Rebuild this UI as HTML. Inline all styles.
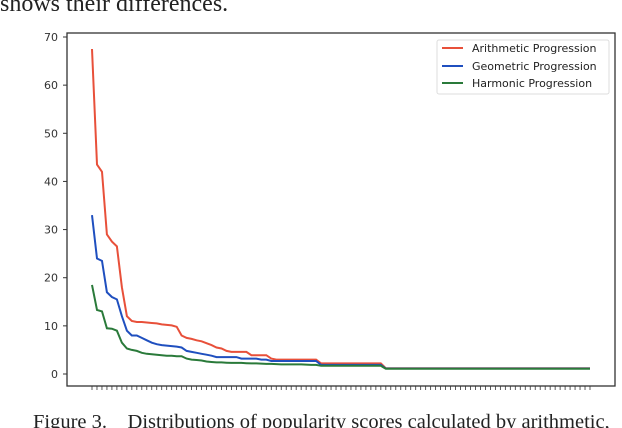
<!DOCTYPE html>
<html><head><meta charset="utf-8"><style>
body{margin:0;background:#fff;}
svg{display:block;}
</style></head><body>
<svg id="chart" width="622" height="428" xmlns="http://www.w3.org/2000/svg">
<text x="0" y="11" font-family="Liberation Serif, serif" font-size="24" fill="#222">shows their differences.</text>
<rect x="67" y="33" width="548" height="353" fill="#fff" stroke="#333" stroke-width="1.3"/>
<g id="yaxis"></g>
<g id="xaxis"></g>
<g id="series"></g>
<g>
<rect x="437" y="40" width="172" height="54" rx="2" fill="#fff" stroke="#ddd"/>
<line x1="442" y1="48" x2="463" y2="48" stroke="#e8503a" stroke-width="2"/>
<text x="472" y="52" font-family="DejaVu Sans, sans-serif" font-size="11" fill="#222">Arithmetic Progression</text>
<line x1="442" y1="66" x2="463" y2="66" stroke="#1f4fbf" stroke-width="2"/>
<text x="472" y="70" font-family="DejaVu Sans, sans-serif" font-size="11" fill="#222">Geometric Progression</text>
<line x1="442" y1="83" x2="463" y2="83" stroke="#2a7a3a" stroke-width="2"/>
<text x="472" y="87" font-family="DejaVu Sans, sans-serif" font-size="11" fill="#222">Harmonic Progression</text>
</g>
<text x="33" y="428" font-family="Liberation Serif, serif" font-size="20.5" fill="#222" xml:space="preserve">Figure 3.    Distributions of popularity scores calculated by arithmetic,</text>
</svg>
<script>
const yTicks=[0,10,20,30,40,50,60,70];
const arithmetic=[67.5,43.5,42,29,27.5,26.5,18,12,11,10.8,10.8,10.7,10.6,10.5,10.3,10.2,10.1,9.8,8.0,7.5,7.3,7.0,6.8,6.4,6.0,5.5,5.3,4.8,4.6,4.6,4.6,4.6,3.9,3.9,3.9,3.9,3.2,3.0,3.0,3.0,3.0,3.0,3.0,3.0,3.0,3.0,2.2,2.2,2.2,2.2,2.2,2.2,2.2,2.2,2.2,2.2,2.2,2.2,2.2,1.2,1.2,1.2,1.2,1.2,1.2,1.2,1.2,1.2,1.2,1.2,1.2,1.2,1.2,1.2,1.2,1.2,1.2,1.2,1.2,1.2,1.2,1.2,1.2,1.2,1.2,1.2,1.2,1.2,1.2,1.2,1.2,1.2,1.2,1.2,1.2,1.2,1.2,1.2,1.2,1.2,1.2];
const geometric=[33,24,23.5,17,16,15.5,12,9,8,8,7.5,7,6.5,6.2,6,5.9,5.8,5.7,5.5,4.8,4.6,4.4,4.2,4,3.8,3.5,3.5,3.5,3.5,3.5,3.2,3.2,3.2,3.2,3.0,3.0,2.7,2.7,2.7,2.7,2.7,2.7,2.7,2.7,2.7,2.7,1.9,1.9,1.9,1.9,1.9,1.9,1.9,1.9,1.9,1.9,1.9,1.9,1.9,1.15,1.15,1.15,1.15,1.15,1.15,1.15,1.15,1.15,1.15,1.15,1.15,1.15,1.15,1.15,1.15,1.15,1.15,1.15,1.15,1.15,1.15,1.15,1.15,1.15,1.15,1.15,1.15,1.15,1.15,1.15,1.15,1.15,1.15,1.15,1.15,1.15,1.15,1.15,1.15,1.15,1.15];
const harmonic=[18.5,13.3,13,9.5,9.4,9,6.5,5.3,5,4.8,4.4,4.2,4.1,4,3.9,3.8,3.8,3.7,3.7,3.2,3.0,2.9,2.8,2.6,2.5,2.4,2.4,2.35,2.3,2.3,2.3,2.25,2.2,2.2,2.15,2.1,2.1,2.05,2.0,2.0,2.0,2.0,2.0,1.95,1.9,1.9,1.7,1.7,1.7,1.7,1.7,1.7,1.7,1.7,1.7,1.7,1.7,1.7,1.7,1.1,1.1,1.1,1.1,1.1,1.1,1.1,1.1,1.1,1.1,1.1,1.1,1.1,1.1,1.1,1.1,1.1,1.1,1.1,1.1,1.1,1.1,1.1,1.1,1.1,1.1,1.1,1.1,1.1,1.1,1.1,1.1,1.1,1.1,1.1,1.1,1.1,1.1,1.1,1.1,1.1,1.1];
const NS='http://www.w3.org/2000/svg';
const n=arithmetic.length;
function xs(i){return 92+i*(590-92)/(n-1);}
function ys(v){return 374-v*(374-37)/70;}
const ya=document.getElementById('yaxis'),xa=document.getElementById('xaxis'),sg=document.getElementById('series');
yTicks.forEach(t=>{
  const l=document.createElementNS(NS,'line');
  
  
  l.setAttribute('x1',63);l.setAttribute('x2',67);l.setAttribute('y1',ys(t));l.setAttribute('y2',ys(t));
  l.setAttribute('stroke','#333');ya.appendChild(l);
  const tx=document.createElementNS(NS,'text');
  
  
  tx.setAttribute('x',58);tx.setAttribute('y',ys(t)+4);tx.setAttribute('text-anchor','end');
  tx.setAttribute('font-family','DejaVu Sans, sans-serif');tx.setAttribute('font-size','11');tx.setAttribute('fill','#333');
  tx.textContent=t;ya.appendChild(tx);
});
for(let i=0;i<n;i++){
  const l=document.createElementNS(NS,'line');
  
  
  l.setAttribute('x1',xs(i));l.setAttribute('x2',xs(i));l.setAttribute('y1',386);l.setAttribute('y2',390);
  l.setAttribute('stroke','#333');l.setAttribute('stroke-width','0.8');xa.appendChild(l);
}
[[arithmetic,'#e8503a','line-arithmetic'],[geometric,'#1f4fbf','line-geometric'],[harmonic,'#2a7a3a','line-harmonic']].forEach(([d,c,nm])=>{
  const p=document.createElementNS(NS,'polyline');
  
  
  p.setAttribute('points',d.map((v,i)=>xs(i).toFixed(1)+','+ys(v).toFixed(1)).join(' '));
  p.setAttribute('fill','none');p.setAttribute('stroke',c);p.setAttribute('stroke-width','2');
  sg.appendChild(p);
});
</script>
</body></html>
